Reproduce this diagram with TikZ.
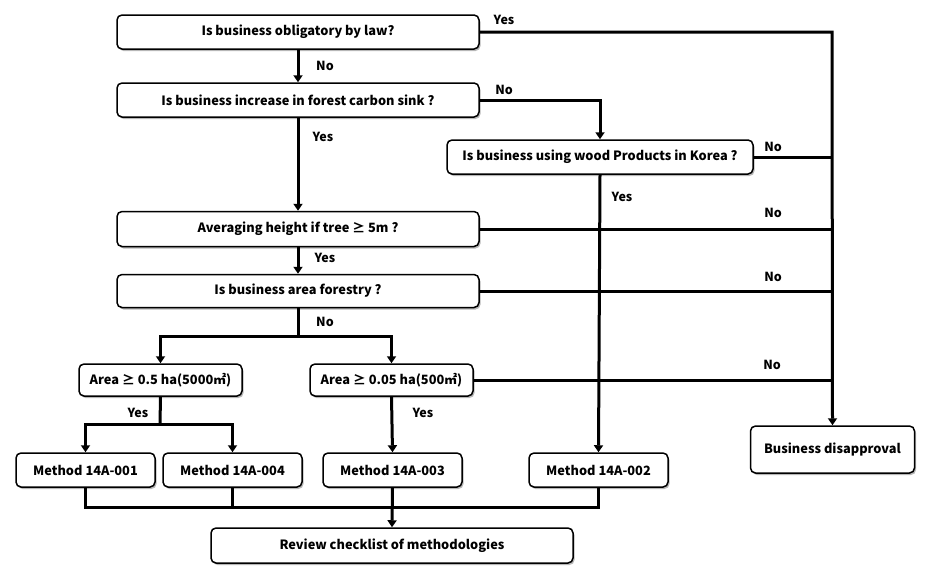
\documentclass[tikz,border=0pt]{standalone}
\usepackage{fontspec}
\setmainfont{Noto Sans CJK KR}
\usetikzlibrary{arrows.meta,shadows}
\tikzset{
  box/.style={draw, line width=1.5pt, rounded corners=5pt, fill=white,
    drop shadow={shadow xshift=1.5pt, shadow yshift=-2pt, opacity=0.4, fill=black!70},
    font=\fontsize{12.8pt}{14pt}\selectfont\bfseries, inner sep=0pt, align=center},
  conn/.style={line width=3pt, line join=miter},
  arr/.style={conn, -{Triangle[width=9pt,length=7pt]}},
  lbl/.style={font=\fontsize{12.5pt}{14pt}\selectfont\bfseries, inner sep=0pt}
}
\begin{document}
\begin{tikzpicture}[x=1pt,y=-1pt]
\useasboundingbox (0,0) rectangle (931,576);
% boxes
\node[box, minimum width=362pt, minimum height=34pt] (b1) at (298,32) {Is business obligatory by law?};
\node[box, minimum width=362pt, minimum height=34pt] (b2) at (298,100) {Is business increase in forest carbon sink ?};
\node[box, minimum width=306pt, minimum height=34pt] (b3) at (600,157) {Is business using wood Products in Korea ?};
\node[box, minimum width=362pt, minimum height=35pt] (b4) at (298,229) {Averaging height if tree ≥ 5m ?};
\node[box, minimum width=362pt, minimum height=33pt] (b5) at (298,291) {Is business area forestry ?};
\node[box, minimum width=163pt, minimum height=32pt] (b6) at (160.5,380) {Area ≥ 0.5 ha(5000㎡)};
\node[box, minimum width=163pt, minimum height=32pt] (b7) at (391.5,380) {Area ≥ 0.05 ha(500㎡)};
\node[box, minimum width=139pt, minimum height=34pt] (m1) at (85.5,470) {Method 14A-001};
\node[box, minimum width=139pt, minimum height=34pt] (m4) at (232.5,470) {Method 14A-004};
\node[box, minimum width=139pt, minimum height=34pt] (m3) at (392.5,470) {Method 14A-003};
\node[box, minimum width=139pt, minimum height=34pt] (m2) at (598.5,470) {Method 14A-002};
\node[box, minimum width=164pt, minimum height=47pt] (bd) at (832.5,449.5) {Business disapproval};
\node[box, minimum width=362pt, minimum height=35pt] (r) at (392,545.5) {Review checklist of methodologies};
% junction coordinates
\coordinate (jr) at (832,32);
\coordinate (jb) at (298,336);
\coordinate (jm) at (160,424);
\coordinate (bus) at (392,507);
% connectors
\draw[arr] (b1.east) -- (jr) -- (bd.north);
\draw[arr] (b1.south) -- (b2.north);
\draw[arr] (b2.east) -| (b3.north);
\draw[arr] (b2.south) -- (b4.north);
\draw[conn] (b3.east) -- (b3.east -| jr);
\draw[arr] (b3.south) -- (m2.north);
\draw[conn] (b4.east) -- (b4.east -| jr);
\draw[arr] (b4.south) -- (b5.north);
\draw[conn] (b5.east) -- (b5.east -| jr);
\draw[conn] (b5.south) -- (jb);
\draw[arr] (jb) -| (b6.north);
\draw[arr] (jb) -| (b7.north);
\draw[conn] (b6.south) -- (jm);
\draw[arr] (jm) -| (m1.north);
\draw[arr] (jm) -| (m4.north);
\draw[arr] (b7.south) -- (m3.north);
\draw[conn] (b7.east) -- (b7.east -| jr);
\draw[conn] (m1.south) |- (bus);
\draw[conn] (m4.south) -- (m4.south |- bus);
\draw[conn] (m2.south) |- (bus);
\draw[arr] (m3.south) -- (r.north);
% labels
\node[lbl] (l1) at (504,20) {Yes};
\node[lbl] (l2) at (325,66) {No};
\node[lbl] (l3) at (504,90) {No};
\node[lbl] (l4) at (323,137) {Yes};
\node[lbl] (l5) at (773,147) {No};
\node[lbl] (l6) at (622,197) {Yes};
\node[lbl] (l7) at (773,213) {No};
\node[lbl] (l8) at (325,258) {Yes};
\node[lbl] (l9) at (773,277) {No};
\node[lbl] (l10) at (325,322) {No};
\node[lbl] (l11) at (772,365) {No};
\node[lbl] (l12) at (138,413) {Yes};
\node[lbl] (l13) at (423,413) {Yes};
\end{tikzpicture}
\end{document}
